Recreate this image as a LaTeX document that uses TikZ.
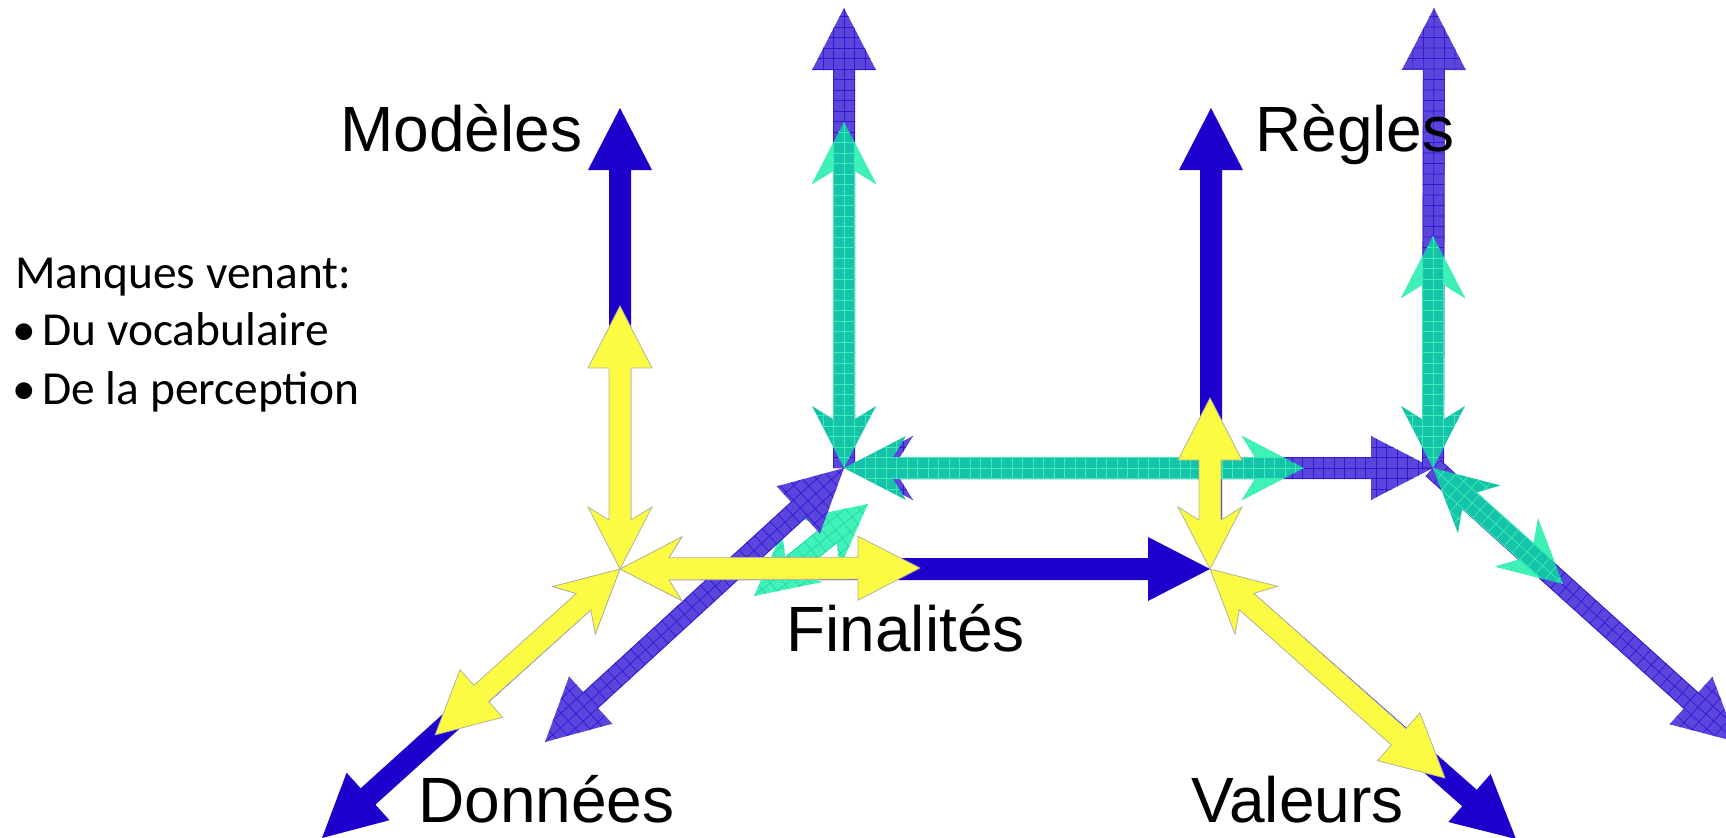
\documentclass[tikz,border=0pt]{standalone}
\usepackage{fontspec}
\setmainfont{Liberation Sans}
\newfontfamily\carlito{Carlito}
\usetikzlibrary{calc}
\definecolor{sblue}{RGB}{30,0,204}
\definecolor{purp}{RGB}{90,70,220}
\definecolor{purpgrid}{RGB}{50,24,208}
\definecolor{tealdark}{RGB}{20,195,168}
\definecolor{teallight}{RGB}{62,242,184}
\definecolor{tealgrid}{RGB}{60,236,182}
\definecolor{tealgridb}{RGB}{40,214,166}
\definecolor{yel}{RGB}{251,251,68}
\definecolor{yeledge}{RGB}{180,180,154}

\makeatletter
\newcommand\argeom[2]{%
  \pgfmathanglebetweenpoints{\pgfpointanchor{#1}{center}}{\pgfpointanchor{#2}{center}}%
  \edef\arang{\pgfmathresult}%
  \pgfpointdiff{\pgfpointanchor{#1}{center}}{\pgfpointanchor{#2}{center}}%
  \edef\arx{\the\pgf@x}\edef\ary{\the\pgf@y}%
  \pgfmathsetmacro\arlen{veclen(\arx,\ary)}%
}
\makeatother

% polygon of a thick arrow along local x axis; #1 tail notch (-1 = no tail head), #2 head notch
\newcommand\arpolydef[2]{%
  \pgfmathsetmacro\arhx{\arlen-31}%
  \pgfmathsetmacro\arjx{\arlen-31+#2}%
  \ifdim #1pt<0pt
    \edef\arpoly{(0pt,5.5pt) -- (\arjx pt,5.5pt) -- (\arhx pt,16pt) -- (\arlen pt,0pt) -- (\arhx pt,-16pt) -- (\arjx pt,-5.5pt) -- (0pt,-5.5pt) -- cycle}%
  \else
    \pgfmathsetmacro\artj{31-#1}%
    \edef\arpoly{(\artj pt,5.5pt) -- (\arjx pt,5.5pt) -- (\arhx pt,16pt) -- (\arlen pt,0pt) -- (\arhx pt,-16pt) -- (\arjx pt,-5.5pt) -- (\artj pt,-5.5pt) -- (31pt,-16pt) -- (0pt,0pt) -- (31pt,16pt) -- cycle}%
  \fi
}

\newcommand\solidarrow[5]{% style, from, to, tail notch, head notch
  \argeom{#2}{#3}\arpolydef{#4}{#5}%
  \begin{scope}[shift={(#2)},rotate=\arang]
    \path[#1] \arpoly;
  \end{scope}}

\newcommand\gridarrow[6]{% fill, grid colour, from, to, tail notch, head notch
  \argeom{#3}{#4}\arpolydef{#5}{#6}%
  \begin{scope}[shift={(#3)},rotate=\arang]
    \fill[#1] \arpoly;
    \begin{scope}
      \clip \arpoly;
      \draw[#2,line width=0.35pt,step=5.25pt] (-2pt,-18pt) grid (\arlen pt+2pt,18pt);
    \end{scope}
  \end{scope}}

\newcommand\tealarrow[2]{% origin, far tip
  \argeom{#1}{#2}\arpolydef{6.5}{6.5}%
  \pgfmathsetmacro\arpx{\arlen-10.66}%
  \begin{scope}[shift={(#1)},rotate=\arang]
    \fill[tealdark] \arpoly;
    \fill[teallight] (\arjx pt,5.5pt) -- (\arhx pt,16pt) -- (\arpx pt,5.5pt) -- cycle
                     (\arjx pt,-5.5pt) -- (\arhx pt,-16pt) -- (\arpx pt,-5.5pt) -- cycle;
    \begin{scope}
      \clip \arpoly;
      \draw[tealgrid,line width=0.35pt,step=5.25pt] (-2pt,-18pt) grid (\arlen pt+2pt,18pt);
    \end{scope}
  \end{scope}}

\begin{document}
\begin{tikzpicture}[x=0.5pt,y=-0.5pt,
  lbl/.style={inner sep=0pt,font=\fontsize{32}{38}\selectfont,anchor=base west},
  side/.style={inner sep=0pt,font=\carlito\fontsize{23.7}{28}\selectfont,anchor=base west},
  sbl/.style={fill=sblue},
  yl/.style={fill=yel,draw=yeledge,line width=0.4pt}]
\useasboundingbox (0,0) rectangle (1726,837);

% origins
\coordinate (A) at (620,569);
\coordinate (B) at (1210,569);
\coordinate (C) at (844,468);
\coordinate (D) at (1433,468);
% hidden starts of the solid blue shafts
\coordinate (Av) at (620,545);
\coordinate (Bv) at (1211,545);
\coordinate (Bd) at (1229,586);
% solid blue ends
\coordinate (Mtip) at (620,108);
\coordinate (Dtip) at (322,838);
\coordinate (Rtip) at (1211,108);
\coordinate (Vtip) at (1516,839);
% purple ends
\coordinate (Ctop) at (844,8);
\coordinate (Cdl) at (545,742);
\coordinate (Cr) at (851,468);
\coordinate (Dtop) at (1434,8);
\coordinate (Ddr) at (1737,742);
% teal ends
\coordinate (Ctq) at (844,122);
\coordinate (Crq) at (1304,468);
\coordinate (Dtq) at (1433,236);
\coordinate (Ddq) at (1563,584);
\coordinate (Sq1) at (754,596);
\coordinate (Sq2) at (868,504);
% yellow ends
\coordinate (Ay) at (620,306);
\coordinate (Ary) at (920,568);
\coordinate (Ady) at (435,735);
\coordinate (By) at (1210,398);
\coordinate (Bdy) at (1445,778);

% solid blue system
\solidarrow{sbl}{Av}{Mtip}{-1}{0}
\solidarrow{sbl}{A}{Dtip}{6.5}{0}
\solidarrow{sbl}{A}{B}{6.5}{0}
\solidarrow{sbl}{Bv}{Rtip}{-1}{0}
\solidarrow{sbl}{Bd}{Vtip}{-1}{0}

% small teal diagonal
\gridarrow{teallight}{tealgridb}{Sq1}{Sq2}{6.5}{6.5}

% purple grid system
\gridarrow{purp}{purpgrid}{C}{Ctop}{-1}{0}
\gridarrow{purp}{purpgrid}{Cdl}{C}{0}{0}
\gridarrow{purp}{purpgrid}{Cr}{D}{6.5}{0}
\gridarrow{purp}{purpgrid}{D}{Dtop}{-1}{0}
\gridarrow{purp}{purpgrid}{D}{Ddr}{-1}{0}

% teal grid system
\tealarrow{C}{Ctq}
\tealarrow{C}{Crq}
\tealarrow{D}{Dtq}
\tealarrow{D}{Ddq}

% yellow system
\solidarrow{yl}{A}{Ay}{6.5}{0}
\solidarrow{yl}{A}{Ady}{6.5}{0}
\solidarrow{yl}{A}{Ary}{6.5}{0}
\solidarrow{yl}{B}{By}{6.5}{0}
\solidarrow{yl}{B}{Bdy}{6.5}{0}

% labels
\node[lbl] (modeles) at (340,151) {Modèles};
\node[lbl] (regles) at (1255,151) {Règles};
\node[lbl] (finalites) at (786,651) {Finalités};
\node[lbl] (donnees) at (418,822) {Données};
\node[lbl] (valeurs) at (1191,822) {Valeurs};

\node[side] (manques) at (15,288) {Manques venant:};
\node[side,anchor=base] (bul1) at (24,345) {•};
\node[side] (voc) at (42,345) {Du vocabulaire};
\node[side,anchor=base] (bul2) at (24,404) {•};
\node[side] (perc) at (42,404) {De la perception};
\end{tikzpicture}
\end{document}
